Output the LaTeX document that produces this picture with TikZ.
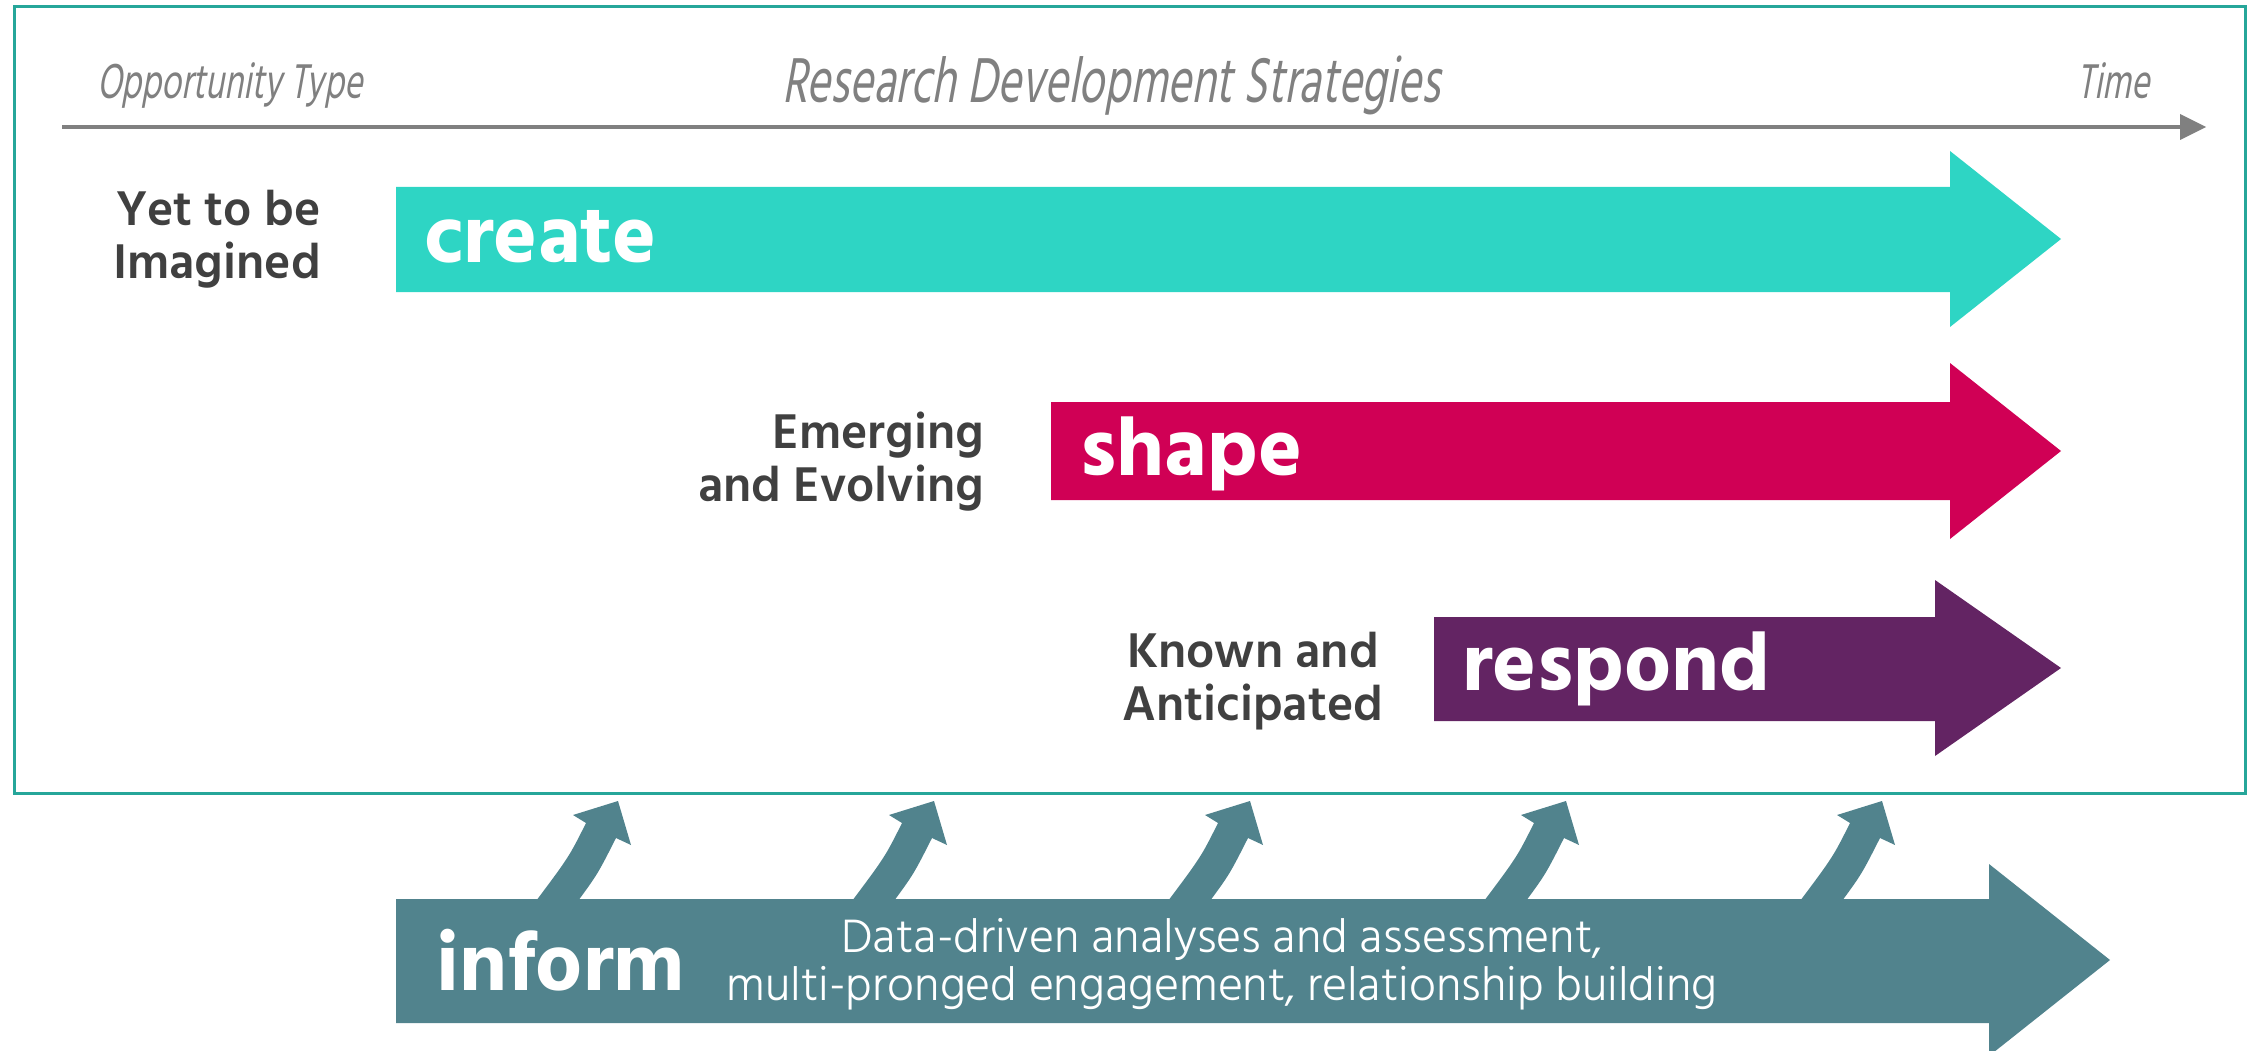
\documentclass[tikz,border=0pt]{standalone}
\usepackage{fontspec}
\newfontfamily\hindbold{Hind Madurai Bold}
\newfontfamily\hindsemi{Hind Madurai SemiBold}
\newfontfamily\hindlight{Hind Madurai Light}
\newfontfamily\hdrfont{Hind Madurai}[FakeSlant=0.18,FakeStretch=0.7]
\definecolor{crt}{RGB}{46,213,196}
\definecolor{shp}{RGB}{208,0,85}
\definecolor{rsp}{RGB}{99,36,99}
\definecolor{inf}{RGB}{81,131,141}
\definecolor{frm}{RGB}{38,166,154}
\definecolor{tl}{RGB}{128,128,128}
\definecolor{lbl}{RGB}{64,64,64}
\tikzset{
  hdr/.style={inner sep=0pt, text=tl, font=\hdrfont\fontsize{50}{50}\selectfont},
  hdrbig/.style={inner sep=0pt, text=tl, font=\hdrfont\fontsize{65}{65}\selectfont},
  lab/.style={inner sep=0pt, text=lbl, font=\hindsemi\fontsize{50}{53}\selectfont},
  word/.style={inner sep=0pt, text=white, font=\hindbold\fontsize{83}{83}\selectfont, anchor=base west},
  desc/.style={inner sep=0pt, text=white, font=\hindlight\fontsize{48}{48}\selectfont, align=center},
}
\newcommand{\bentarrow}[1]{%
  \fill[inf] (#1-5,905) .. controls (#1+31,857) .. (#1+48,823) -- (#1+35,815) -- (#1+80,801)
    -- (#1+93,845) -- (#1+78,838) .. controls (#1+59.5,874.5) .. (#1+37,905) -- cycle;}
\begin{document}
\begin{tikzpicture}[x=1pt,y=-1pt]
\useasboundingbox (0,0) rectangle (2252,1051);
% frame
\draw[frm, line width=3] (14,7) rectangle (2245,793);
% timeline
\draw[tl, line width=4.5] (62,127) -- (2184,127);
\fill[tl] (2180,114) -- (2206,127) -- (2180,140) -- cycle;
\node[hdr, anchor=base west] (opp) at (97,99) {Opportunity Type};
\node[hdrbig, anchor=base] (rds) at (1111,103) {Research Development Strategies};
\node[hdr, anchor=base east] (time) at (2150,99) {Time};
% create
\fill[crt] (396,187) -- (1950,187) -- (1950,151) -- (2061,239) -- (1950,327) -- (1950,292) -- (396,292) -- cycle;
\node[word] (create) at (424,262) {create};
\node[lab, align=right, anchor=base east] (yet) at (321,278) {Yet to be\\Imagined};
% shape
\fill[shp] (1051,402) -- (1950,402) -- (1950,363) -- (2061,451) -- (1950,539) -- (1950,500) -- (1051,500) -- cycle;
\node[word] (shape) at (1080,475) {shape};
\node[lab, align=right, anchor=base east] (emg) at (984,501) {Emerging\\and Evolving};
% respond
\fill[rsp] (1434,617) -- (1935,617) -- (1935,580) -- (2061,668) -- (1935,756) -- (1935,721) -- (1434,721) -- cycle;
\node[word] (respond) at (1462,690) {respond};
\node[lab, align=center, anchor=base] (known) at (1253,720) {Known and\\Anticipated};
% inform
\fill[inf] (396,899) -- (1989,899) -- (1989,864) -- (2110,960) -- (1989,1056) -- (1989,1023) -- (396,1023) -- cycle;
\node[word] (inform) at (436,990) {inform};
\node[desc, anchor=base] (dsc) at (1222,1000) {Data-driven analyses and assessment,\\multi-pronged engagement, relationship building};
\bentarrow{538}
\bentarrow{854}
\bentarrow{1170}
\bentarrow{1486}
\bentarrow{1802}
\end{tikzpicture}
\end{document}
